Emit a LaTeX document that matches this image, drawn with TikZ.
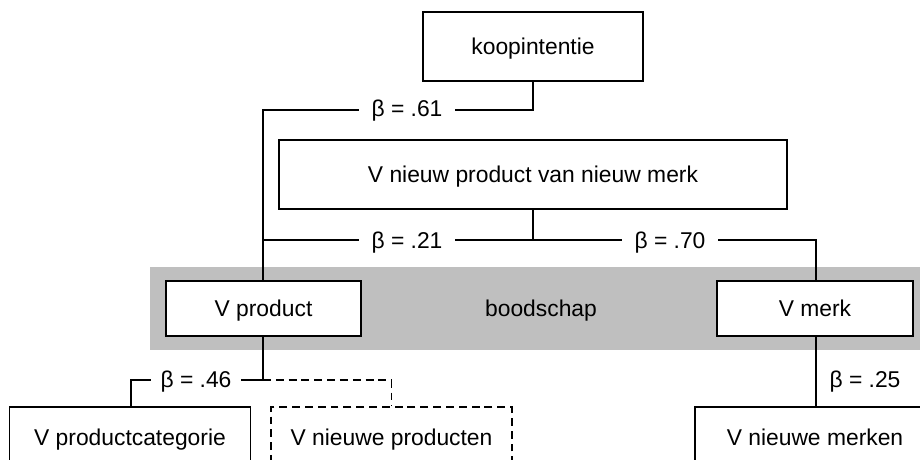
\documentclass[tikz,border=0pt]{standalone}
\usepackage{fontspec}
\setmainfont{Liberation Sans}
\newdimen\px
\px=0.02cm
\begin{document}
\begin{tikzpicture}[x=0.02cm,y=-0.02cm,
  every node/.style={font=\fontsize{13}{15}\selectfont, text height=9.3pt, text depth=0pt},
  box/.style={draw, line width=0.85pt, fill=white, inner sep=0pt},
  dbox/.style={draw, line width=0.85pt, fill=white, inner sep=0pt, dash pattern=on 4.5pt off 2.8pt},
  conn/.style={line width=0.85pt},
  dconn/.style={line width=0.85pt, dash pattern=on 4.5pt off 2.8pt},
  lab/.style={fill=white, inner sep=0pt, minimum width=96\px, minimum height=20\px},
  band/.style={fill=black!25, draw=none}
]
\useasboundingbox (0,0) rectangle (920,460);
% gray band
\fill[band] (150,267) rectangle (920,350);
\node[inner sep=0pt] (bood) at (541,308.5) {boodschap};

% boxes
\node[box, minimum width=220\px, minimum height=69\px] (koop) at (533,46.5) {koopintentie};
\node[box, minimum width=508\px, minimum height=69\px] (vnp) at (533,174.5) {V nieuw product van nieuw merk};
\node[box, minimum width=195\px, minimum height=55\px] (vprod) at (263.5,308.5) {V product};
\node[box, minimum width=196\px, minimum height=55\px] (vmerk) at (815,308.5) {V merk};
\node[box, minimum width=241\px, minimum height=60\px] (vpc) at (130,437) {V productcategorie};
\node[dbox, minimum width=241\px, minimum height=60\px] (vnpr) at (391.5,437) {V nieuwe producten};
\node[box, minimum width=240\px, minimum height=60\px] (vnm) at (815,437) {V nieuwe merken};

% koopintentie -> V product
\coordinate (k1) at (533,110);
\coordinate (k2) at (263,110);
\draw[conn] (koop.south) -- (k1) -- (k2) -- (k2 |- vprod.north);
\node[lab] (b61) at (407,108) {\char"03B2{} = .61};

% V nieuw product -> V product / V merk
\coordinate (n1) at (533,240);
\coordinate (n2) at (263,240);
\coordinate (n3) at (816,240);
\draw[conn] (vnp.south) -- (n1);
\draw[conn] (n2 |- vprod.north) -- (n2) -- (n3) -- (n3 |- vmerk.north);
\node[lab] (b21) at (407,240) {\char"03B2{} = .21};
\node[lab] (b70) at (670,240) {\char"03B2{} = .70};

% V product -> V productcategorie / V nieuwe producten
\coordinate (p1) at (263,380);
\coordinate (p2) at (131,380);
\coordinate (p3) at (391.5,380);
\draw[conn] (vprod.south -| p1) -- (p1) -- (p2) -- (p2 |- vpc.north);
\draw[dconn] (p1) -- (p3) -- (vnpr.north);
\node[lab, minimum width=90\px] (b46) at (196,379) {\char"03B2{} = .46};

% V merk -> V nieuwe merken
\draw[conn] (vmerk.south -| n3) -- (n3 |- vnm.north);
\node[inner sep=0pt] (b25) at (865,379) {\char"03B2{} = .25};
\end{tikzpicture}
\end{document}
